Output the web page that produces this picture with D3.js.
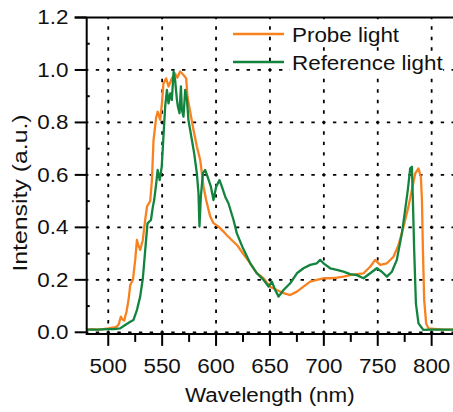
<!DOCTYPE html>
<html>
<head>
<meta charset="utf-8">
<script src="https://cdn.jsdelivr.net/npm/d3@7"></script>
<style>
  body { margin: 0; background: #fff; }
  text { font-family: "Liberation Sans", Arial, sans-serif; fill: #111; }
</style>
</head>
<body>
<div id="chart"></div>
<script>
// probe light spectrum (orange)
const probeNm = [480, 485, 490, 495, 500, 504, 507, 509.5, 511.7, 513, 514.8, 517, 518.8, 520.4, 522.9, 525, 526.6, 528, 529.6, 532,
  534.3, 536, 538.9, 540.5, 542, 544.5, 545.8, 548.2, 549.8, 551.2, 553.7, 555.9, 559, 562, 564, 566.7, 569.8, 572.3, 573.5, 576,
  579.1, 582.2, 585.3, 588.4, 590.8, 594.6, 597.6, 602.3, 606.9, 610, 615, 620, 625, 631.7, 637.9, 644, 650.2, 656.4, 662.6, 668.8,
  675, 681.1, 687.3, 693.5, 699.7, 705.9, 712.1, 718.2, 724.4, 730.6, 736.8, 743, 747.6, 752.3, 758.5, 764.6, 769.3, 773.9, 778.5, 781.7,
  784.8, 787.8, 790, 791, 791.9, 793.1, 794.9, 797, 805, 812, 820];
const probeVal = [0.010, 0.012, 0.010, 0.012, 0.015, 0.018, 0.020, 0.028, 0.060, 0.050, 0.045, 0.080, 0.123, 0.180, 0.200, 0.276, 0.352, 0.330, 0.314, 0.350,
  0.430, 0.480, 0.500, 0.580, 0.733, 0.820, 0.841, 0.810, 0.873, 0.949, 0.968, 0.937, 0.968, 0.987, 0.970, 0.994, 0.981, 0.968, 0.898, 0.841,
  0.771, 0.708, 0.657, 0.555, 0.504, 0.441, 0.416, 0.403, 0.384, 0.370, 0.350, 0.330, 0.300, 0.263, 0.225, 0.206, 0.174, 0.161, 0.149, 0.142,
  0.155, 0.174, 0.193, 0.200, 0.206, 0.206, 0.208, 0.212, 0.218, 0.222, 0.225, 0.250, 0.276, 0.257, 0.263, 0.288, 0.333, 0.403, 0.479, 0.543,
  0.606, 0.625, 0.593, 0.504, 0.314, 0.123, 0.034, 0.015, 0.012, 0.010, 0.010];

// reference light spectrum (green)
const refNm = [480, 490, 500, 505, 511, 515.7, 520.4, 523.4, 526.6, 529.6, 532.1, 534.3, 536.4, 539.6, 541.4, 542.6, 544.5, 545.8, 547.7, 549.6,
  551.2, 552.8, 554.4, 555.9, 557.5, 559, 560.6, 562, 563.7, 564.6, 566.1, 567.4, 568.3, 569.8, 571.4, 573, 574.4, 577.6, 579.7, 582.2,
  583.7, 584.6, 585.9, 587.8, 589.9, 592.1, 595.2, 597.6, 600.1, 603.2, 605.4, 608.5, 611.5, 616.2, 619.3, 625, 631.7, 637.9, 644, 648.7,
  651.8, 654.9, 658, 662.6, 668.8, 675, 681.1, 687.3, 693.5, 696.6, 699.7, 705.9, 712.1, 718.2, 724.4, 730.6, 736.8, 743, 749.1, 753.8,
  758.5, 763.1, 767.7, 772.4, 775.4, 777.9, 780.1, 781.7, 782.6, 783.8, 785.4, 787.8, 792.4, 800, 810, 820];
const refVal = [0.010, 0.010, 0.012, 0.012, 0.015, 0.028, 0.040, 0.047, 0.085, 0.136, 0.206, 0.314, 0.415, 0.428, 0.479, 0.504, 0.568, 0.619, 0.580, 0.631,
  0.746, 0.860, 0.924, 0.873, 0.911, 0.886, 0.994, 0.962, 0.886, 0.860, 0.835, 0.937, 0.848, 0.822, 0.924, 0.886, 0.809, 0.733, 0.682, 0.606,
  0.530, 0.403, 0.517, 0.606, 0.619, 0.593, 0.555, 0.504, 0.555, 0.580, 0.555, 0.517, 0.492, 0.428, 0.377, 0.320, 0.263, 0.225, 0.200, 0.174,
  0.193, 0.161, 0.136, 0.161, 0.187, 0.225, 0.244, 0.257, 0.263, 0.276, 0.263, 0.244, 0.238, 0.231, 0.222, 0.218, 0.206, 0.225, 0.244, 0.231,
  0.212, 0.231, 0.276, 0.377, 0.466, 0.543, 0.625, 0.631, 0.504, 0.314, 0.110, 0.034, 0.009, 0.010, 0.010, 0.010];

const xTicks = [500, 550, 600, 650, 700, 750, 800];
const xMinor = [525, 575, 625, 675, 725, 775];
const yTicks = [0, 0.2, 0.4, 0.6, 0.8, 1.0, 1.2];
const yMinor = [0.1, 0.3, 0.5, 0.7, 0.9, 1.1];
const seriesNames = ['Probe light', 'Reference light'];
const seriesColors = ['#f7821f', '#13843d'];

const width = 453;
const height = 412;
const stretch = 1.12; // text in the figure is drawn a bit wider than Arial

const x = d3.scaleLinear().domain([480, 820]).range([86.7, 453.2]);
const y = d3.scaleLinear().domain([0, 1.2]).range([332.3, 17.5]);

const svg = d3.select('#chart').append('svg')
  .attr('width', width)
  .attr('height', height)
  .attr('viewBox', [0, 0, width, height]);

// dotted grid, dashes centred on grid crossings
const pv = (y(0) - y(0.2)) / 5;
const ph = (x(550) - x(500)) / 5;
const grid = svg.append('g').attr('stroke', '#000').attr('stroke-width', 1.8).attr('fill', 'none');
grid.selectAll('.vg').data(xTicks).join('line')
  .attr('x1', d => x(d)).attr('x2', d => x(d))
  .attr('y1', y(1.2)).attr('y2', y(0) + 2)
  .attr('stroke-dasharray', `3.4,${pv - 3.4}`)
  .attr('stroke-dashoffset', 1.7);
grid.selectAll('.hg').data(yTicks.slice(0, -1)).join('line')
  .attr('x1', x(480)).attr('x2', width)
  .attr('y1', d => y(d)).attr('y2', d => y(d))
  .attr('stroke-dasharray', `3.4,${ph - 3.4}`)
  .attr('stroke-dashoffset', 1.7);

// spectra
const line = d3.line().x(d => x(d[0])).y(d => y(d[1]));
const probe = probeNm.map((v, i) => [v, probeVal[i]]);
const ref = refNm.map((v, i) => [v, refVal[i]]);
[probe, ref].forEach((s, i) => {
  svg.append('path')
    .datum(s)
    .attr('fill', 'none')
    .attr('stroke', seriesColors[i])
    .attr('stroke-width', 2.3)
    .attr('stroke-linejoin', 'round')
    .attr('d', line);
});

// frame + axes
const ax = svg.append('g').attr('stroke', '#000').attr('stroke-width', 2);
const xAxisY = y(0) + 1.6;
ax.append('line').attr('x1', x(480)).attr('x2', width).attr('y1', xAxisY).attr('y2', xAxisY);
ax.append('line').attr('x1', x(480)).attr('x2', x(480)).attr('y1', y(1.2)).attr('y2', xAxisY + 1);
ax.append('line').attr('x1', x(480) - 12).attr('x2', width).attr('y1', y(1.2)).attr('y2', y(1.2));
ax.selectAll('.yt').data(yTicks).join('line')
  .attr('x1', x(480) - 12).attr('x2', x(480))
  .attr('y1', d => y(d)).attr('y2', d => y(d));
ax.selectAll('.ym').data(yMinor).join('line')
  .attr('x1', x(480)).attr('x2', x(480) + 3)
  .attr('y1', d => y(d)).attr('y2', d => y(d));
ax.selectAll('.xt').data(xTicks).join('line')
  .attr('x1', d => x(d)).attr('x2', d => x(d))
  .attr('y1', xAxisY).attr('y2', xAxisY + 12);
ax.selectAll('.xm').data(xMinor).join('line')
  .attr('x1', d => x(d)).attr('x2', d => x(d))
  .attr('y1', xAxisY).attr('y2', xAxisY + 8);

// tick labels
svg.selectAll('.xl').data(xTicks).join('text')
  .attr('x', d => x(d)).attr('y', 372.7)
  .attr('text-anchor', 'middle')
  .attr('font-size', 20)
  .text(d => d);
svg.selectAll('.yl').data(yTicks).join('text')
  .attr('x', 68.5).attr('y', d => y(d) + 6.8)
  .attr('text-anchor', 'end')
  .attr('font-size', 20)
  .text(d => d.toFixed(1));

svg.append('text')
  .attr('x', (x(480) + width) / 2).attr('y', 401.7)
  .attr('text-anchor', 'middle')
  .attr('font-size', 20)
  .text('Wavelength (nm)');

svg.append('text')
  .attr('transform', 'translate(26.5,193) rotate(-90)')
  .attr('text-anchor', 'middle')
  .attr('font-size', 20)
  .attr('class', 'ylabel')
  .text('Intensity (a.u.)');

// legend
const legend = svg.append('g');
seriesNames.forEach((name, i) => {
  const ly = 34 + i * 28;
  legend.append('line')
    .attr('x1', 233).attr('x2', 284)
    .attr('y1', ly).attr('y2', ly)
    .attr('stroke', seriesColors[i]).attr('stroke-width', 2.4);
  legend.append('rect').attr('class', 'lbg');
  legend.append('text')
    .attr('x', 292).attr('y', ly + 7.6)
    .attr('font-size', 20)
    .text(name);
});

// widen all text a little to match the figure's type
svg.selectAll('text').each(function () {
  const w = this.getComputedTextLength();
  const k = this.classList.contains('ylabel') ? 1.24 : stretch;
  this.setAttribute('textLength', w * k);
  this.setAttribute('lengthAdjust', 'spacingAndGlyphs');
});

// white boxes behind legend labels hide the grid
legend.selectAll('text').each(function () {
  const b = this.getBBox();
  d3.select(this.previousSibling)
    .attr('x', b.x - 2).attr('y', b.y + 2)
    .attr('width', b.width + 2).attr('height', b.height - 3)
    .attr('fill', '#fff');
});
</script>
</body>
</html>
